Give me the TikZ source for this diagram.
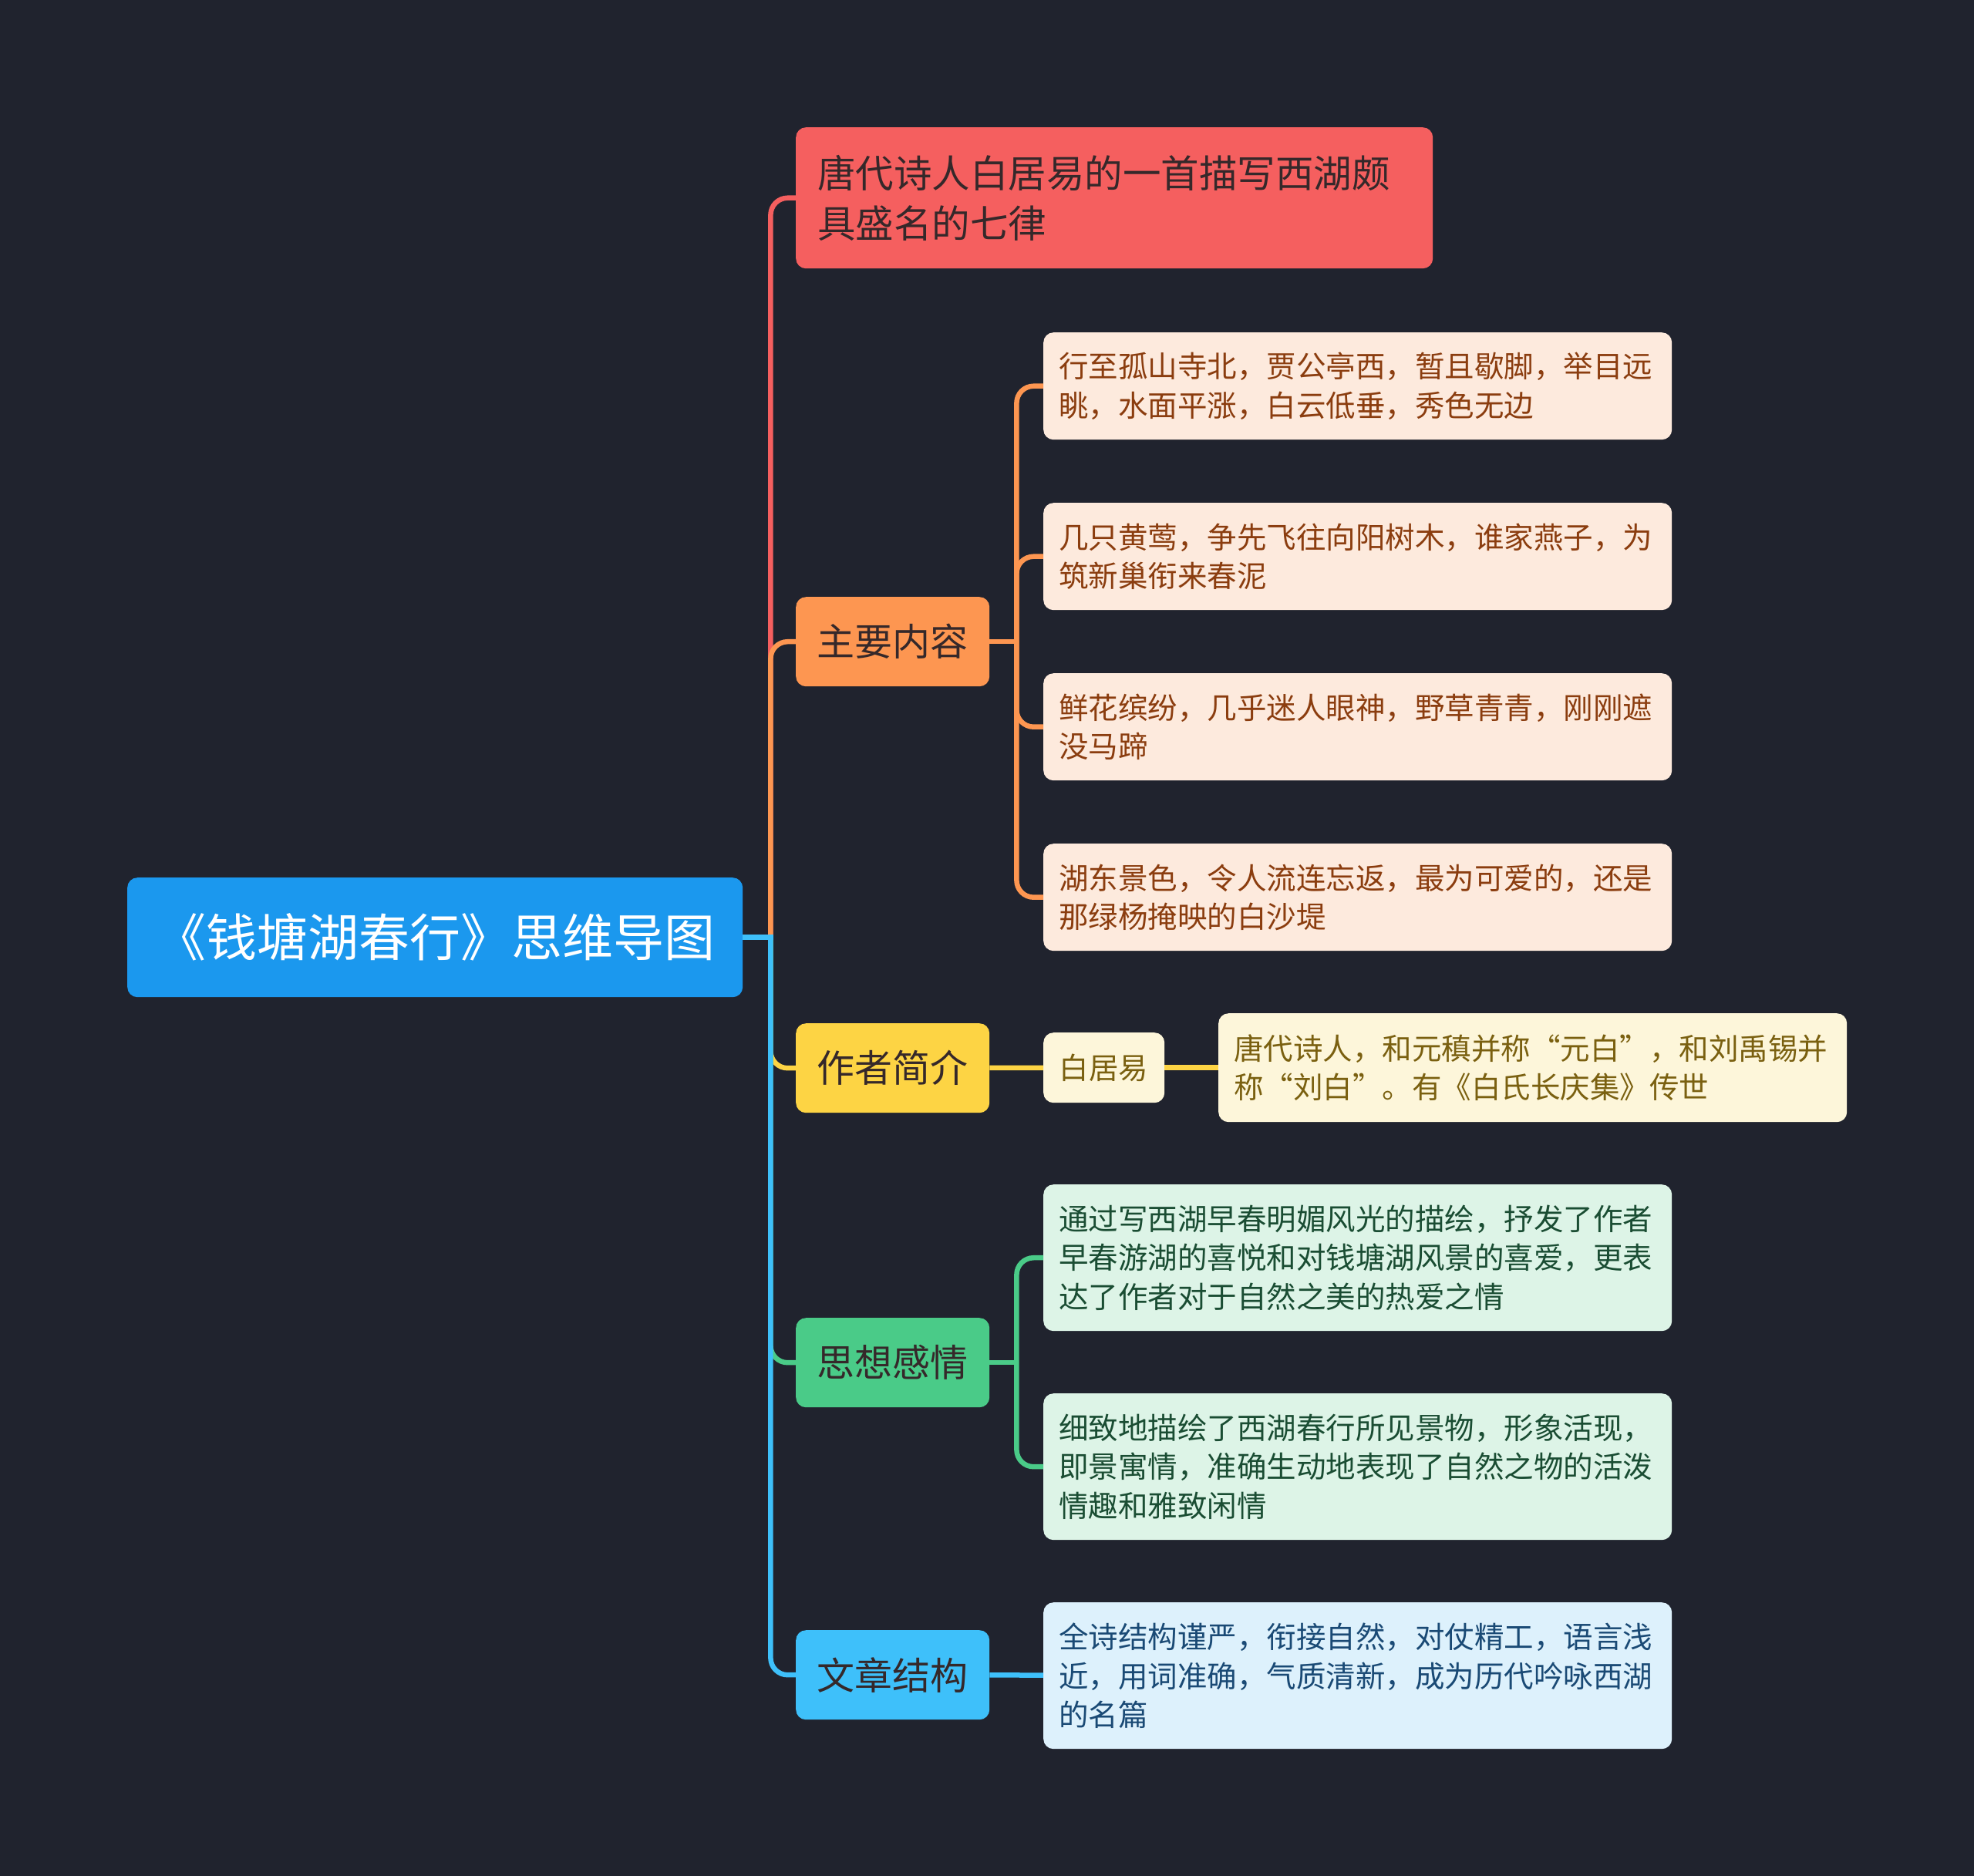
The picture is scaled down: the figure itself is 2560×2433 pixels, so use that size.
\documentclass[tikz,border=0pt]{standalone}
\usepackage{fontspec}
\setmainfont{Noto Sans CJK SC}
\usepackage{tikz}
\usetikzlibrary{calc}

\definecolor{bgc}{HTML}{20232E}
\definecolor{rootc}{HTML}{1B98EE}
\definecolor{redc}{HTML}{F55F5F}
\definecolor{orgc}{HTML}{FD9651}
\definecolor{yelc}{HTML}{FDD444}
\definecolor{grnc}{HTML}{4ACB88}
\definecolor{bluc}{HTML}{3EC0FA}
\definecolor{darkt}{HTML}{35282A}
\definecolor{orgl}{HTML}{FDEADD}
\definecolor{orgt}{HTML}{8B3D0F}
\definecolor{yell}{HTML}{FDF6DA}
\definecolor{yelt}{HTML}{7A6010}
\definecolor{grnl}{HTML}{DDF4E7}
\definecolor{grnt}{HTML}{1A4D33}
\definecolor{blul}{HTML}{DDF1FC}
\definecolor{blut}{HTML}{1A4A75}

\tikzset{
  box/.style={rounded corners=13pt, anchor=north west, inner sep=0pt},
  topic/.style={box, minimum width=251pt, minimum height=116pt, text=darkt,
    font=\fontsize{49}{65}\selectfont},
  leaf/.style={box, minimum width=815pt, text width=775pt, align=left,
    font=\fontsize{38.5}{50.5}\selectfont},
  link/.style={line width=6.5pt, rounded corners=22pt}
}

\begin{document}
\begin{tikzpicture}[x=1pt,y=-1pt]
   \useasboundingbox (0,0) rectangle (2560,2433);
   \fill[bgc] (0,0) rectangle (2560,2433);
   % root and main topics
   \node[box,fill=rootc,text=white,minimum width=798pt,minimum height=155pt,
         font=\fontsize{66}{80}\selectfont] (root) at (165,1138) {《钱塘湖春行》思维导图};
   \node[box,fill=redc,text=darkt,minimum width=826pt,minimum height=183pt,
         text width=770pt,align=left,font=\fontsize{49.5}{65}\selectfont]
         (poem) at (1032,165) {唐代诗人白居易的一首描写西湖颇\\具盛名的七律};
   \node[topic,fill=orgc] (main) at (1032,774) {主要内容};
   \node[topic,fill=yelc] (auth) at (1032,1327) {作者简介};
   \node[topic,fill=grnc] (feel) at (1032,1709) {思想感情};
   \node[topic,fill=bluc] (struc) at (1032,2114) {文章结构};
   % main content
   \node[leaf,fill=orgl,text=orgt,minimum height=139pt] (m1) at (1353,431)
         {行至孤山寺北，贾公亭西，暂且歇脚，举目远\\眺，水面平涨，白云低垂，秀色无边};
   \node[leaf,fill=orgl,text=orgt,minimum height=139pt] (m2) at (1353,652)
         {几只黄莺，争先飞往向阳树木，谁家燕子，为\\筑新巢衔来春泥};
   \node[leaf,fill=orgl,text=orgt,minimum height=139pt] (m3) at (1353,873)
         {鲜花缤纷，几乎迷人眼神，野草青青，刚刚遮\\没马蹄};
   \node[leaf,fill=orgl,text=orgt,minimum height=139pt] (m4) at (1353,1094)
         {湖东景色，令人流连忘返，最为可爱的，还是\\那绿杨掩映的白沙堤};
   % author
   \node[box,fill=yell,text=yelt,minimum width=157pt,minimum height=91pt,
         font=\fontsize{38.5}{50.5}\selectfont] (bai) at (1353,1339) {白居易};
   \node[leaf,fill=yell,text=yelt,minimum height=141pt] (a1) at (1580,1314)
         {唐代诗人，和元稹并称“元白”，和刘禹锡并\\称“刘白”。有《白氏长庆集》传世};
   % feelings
   \node[leaf,fill=grnl,text=grnt,minimum height=190pt] (f1) at (1353,1536)
         {通过写西湖早春明媚风光的描绘，抒发了作者\\早春游湖的喜悦和对钱塘湖风景的喜爱，更表\\达了作者对于自然之美的热爱之情};
   \node[leaf,fill=grnl,text=grnt,minimum height=190pt] (f2) at (1353,1807)
         {细致地描绘了西湖春行所见景物，形象活现，\\即景寓情，准确生动地表现了自然之物的活泼\\情趣和雅致闲情};
   % structure
   \node[leaf,fill=blul,text=blut,minimum height=190pt] (s1) at (1353,2078)
         {全诗结构谨严，衔接自然，对仗精工，语言浅\\近，用词准确，气质清新，成为历代吟咏西湖\\的名篇};

   % connectors
   \coordinate (hub) at ($(root.east)+(36,0)$);
   \coordinate (mhub) at ($(main.east)+(35,0)$);
   \coordinate (fhub) at ($(feel.east)+(35,0)$);
   \draw[link,redc] (hub) |- (poem.west);
   \draw[link,orgc] (hub) |- (main.west);
   \draw[link,yelc] (hub) |- (auth.west);
   \draw[link,grnc] (hub) |- (feel.west);
   \draw[link,bluc] (hub) |- (struc.west);
   \draw[link,bluc] (root.east) -- ($(hub)+(3.25,0)$);
   \draw[link,orgc] (main.east) -- (mhub);
   \foreach \n in {m1,m2,m3,m4} \draw[link,orgc] (mhub) |- (\n.west);
   \draw[link,grnc] (feel.east) -- (fhub);
   \foreach \n in {f1,f2} \draw[link,grnc] (fhub) |- (\n.west);
   \path[link,yelc] (auth) edge (bai)  (bai) edge (a1);
   \path[link,bluc] (struc) edge (s1);
\end{tikzpicture}
\end{document}
